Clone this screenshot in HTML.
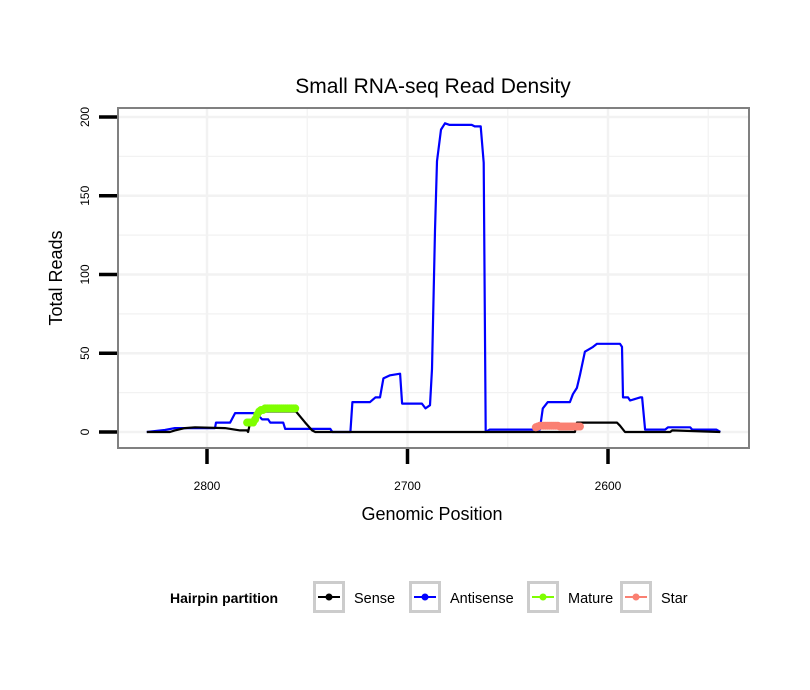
<!DOCTYPE html>
<html><head><meta charset="utf-8"><style>
body{margin:0;background:#fff}
svg{display:block;font-family:"Liberation Sans",sans-serif}
</style></head><body>
<svg id="chart" width="810" height="690">
<rect width="810" height="690" fill="#fff"/>
<text x="433" y="93" text-anchor="middle" font-size="21">Small RNA-seq Read Density</text>
<g id="grid"></g>
<g id="series"></g>
<rect x="118" y="108" width="631" height="340" fill="none" stroke="#808080" stroke-width="2"/>
<g id="axes"></g>
<text x="432" y="520" text-anchor="middle" font-size="18">Genomic Position</text>
<text transform="translate(62,278) rotate(-90)" text-anchor="middle" font-size="18">Total Reads</text>
<g>
<text x="170" y="603" font-size="14" font-weight="bold">Hairpin partition</text>
<g id="legend"></g>
</g>
</svg>
<script>
const xTicks=[2800,2700,2600];
const yTicks=[0,50,100,150,200];
const antisensePos=[2830,2821,2816,2796,2795.5,2788.5,2786,2775.5,2772.5,2769.5,2768.5,2762,2761,2738.5,2737.5,2728.5,2727.5,2718.7,2716,2713.7,2712,2708.7,2703.7,2702.7,2692.8,2691,2688.8,2687.8,2686.3,2685.3,2683.3,2681.3,2679,2668,2666.5,2663.5,2662,2661,2659,2634,2632.5,2630,2619,2617.5,2615.5,2614,2611.5,2607.5,2605.5,2594,2593,2592.5,2590,2589,2584,2583,2581.5,2571.5,2570,2559,2558,2546,2544];
const antisenseVal=[0,1.3,2.5,2.5,6,6,12,12,8,8,6,6,2,2,0,0,19,19,22,22,34,36,37,18,18,15,17,40,128,172,192,196,195,195,194,194,171,0,1.5,1.5,15,19,19,24,28,36,51,54,56,56,54,22,22,20,22,22,1.5,1.5,3,3,1.5,1.5,0];
const sensePos=[2830,2818.5,2816,2811,2806,2791,2783.5,2780,2779.5,2778.5,2772.5,2755.6,2753.6,2751,2747.6,2746,2616.5,2615.5,2595.5,2594,2591.5,2569,2568,2544];
const senseVal=[0,0,1,2.5,3,2.5,1,1,0,6,13,13,10,6,1,0,0,6,6,4,0,0,1,0];
const maturePos=[2780,2779,2778,2777,2776,2775,2774,2773,2772,2771,2770,2769,2768,2767,2766,2765,2764,2763,2762,2761,2760,2759,2758,2757,2756];
const matureVal=[6,6,6,6,8,11,13,14,14,15,15,15,15,15,15,15,15,15,15,15,15,15,15,15,15];
const starPos=[2636,2635,2634,2633,2632,2631,2630,2629,2628,2627,2626,2625,2624,2623,2622,2621,2620,2619,2618,2617,2616,2615,2614];
const starVal=[3,3.5,4,4,4,4,4,4,4,4,4,4,3.5,3.5,3.5,3.5,3.5,3.5,3.5,3.5,3.5,3.5,3.5];
const legendLabels=["Sense","Antisense","Mature","Star"];
const legendColors=["#000","#0000ff","#7fff00","#fa8072"];

const X=p=>207+(2800-p)*2.005;
const Y=v=>432-v*1.575;
const NS="http://www.w3.org/2000/svg";
function mk(tag,attrs,parent){const e=document.createElementNS(NS,tag);for(const k in attrs)e.setAttribute(k,attrs[k]);parent.appendChild(e);return e;}
const grid=document.getElementById('grid'),axes=document.getElementById('axes'),series=document.getElementById('series'),legend=document.getElementById('legend');

const xg=[2850,2800,2750,2700,2650,2600,2550];
xg.forEach((p,i)=>{const x=X(p);if(x<118||x>749)return;
const l=mk('line',{x1:x,x2:x,y1:108,y2:448,stroke:'#f2f2f2','stroke-width':i%2?2.5:1.2},grid);

});
[0,25,50,75,100,125,150,175,200].forEach((v,i)=>{const y=Y(v);
const l=mk('line',{x1:118,x2:749,y1:y,y2:y,stroke:'#f2f2f2','stroke-width':i%2?1.2:2.5},grid);

});

xTicks.forEach(t=>{const x=X(t);
const l=mk('line',{x1:x,x2:x,y1:449,y2:464,stroke:'#000','stroke-width':3.5},axes);


const tx=mk('text',{x:x,y:490,'text-anchor':'middle','font-size':12},axes);tx.textContent=t;

});
yTicks.forEach(t=>{const y=Y(t);
const l=mk('line',{x1:99,x2:117,y1:y,y2:y,stroke:'#000','stroke-width':3.5},axes);


const tx=mk('text',{transform:`translate(89,${y}) rotate(-90)`,'text-anchor':'middle','font-size':12},axes);tx.textContent=t;

});

function line(pos,val,color,name){
const d=pos.map((p,i)=>(i?'L':'M')+X(p).toFixed(1)+','+Y(val[i]).toFixed(1)).join('');
const e=mk('path',{d:d,fill:'none',stroke:color,'stroke-width':2.2,'stroke-linejoin':'round'},series);

}
function pts(pos,val,color,name){
line(pos,val,color,name+'-line');
pos.forEach((p,i)=>{const c=mk('circle',{cx:X(p),cy:Y(val[i]),r:4,fill:color},series);

});}
line(antisensePos,antisenseVal,'#0000ff','antisense-line');
line(sensePos,senseVal,'#000','sense-line');
pts(maturePos,matureVal,'#7fff00','mature');
pts(starPos,starVal,'#fa8072','star');

const bx=[313,409,527,620];
legendLabels.forEach((lab,i)=>{const x=bx[i];
const g=mk('g',{},legend);


mk('rect',{x:x+1.5,y:582.5,width:29,height:29,fill:'#fff',stroke:'#cccccc','stroke-width':3},g);
mk('line',{x1:x+5,x2:x+27,y1:597,y2:597,stroke:legendColors[i],'stroke-width':2},g);
mk('circle',{cx:x+16,cy:597,r:3.5,fill:legendColors[i]},g);
const t=mk('text',{x:x+41,y:603,'font-size':14.5},g);t.textContent=lab;});
</script>
</body></html>
